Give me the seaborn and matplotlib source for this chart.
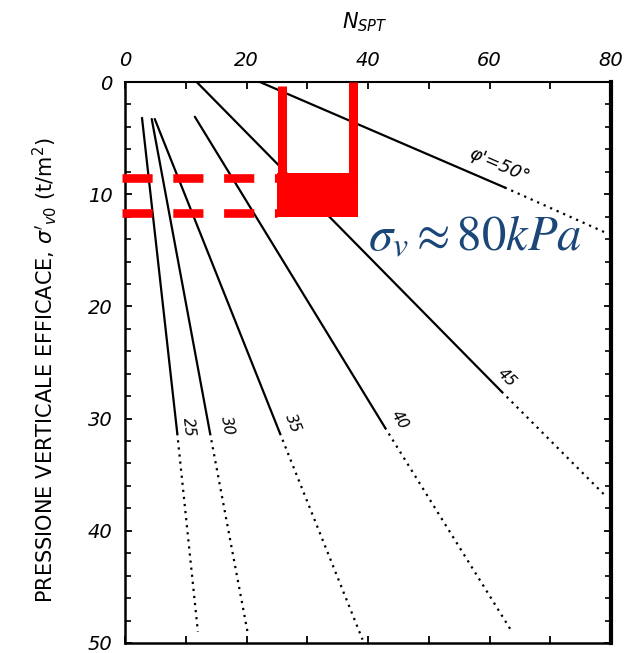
import numpy as np
import pandas as pd
import matplotlib
matplotlib.use('Agg')
import matplotlib.pyplot as plt
from matplotlib.ticker import MultipleLocator
import seaborn as sns

# curve N_SPT - sigma'v0 per angolo di attrito
phi = [25, 30, 35, 40, 45, 50]
n_start = [2.8, 4.4, 4.9, 11.5, 11.8, 22.2]
s_start = [3.2, 3.3, 3.3, 3.1, 0.0, 0.0]
n_solid = [8.6, 14.0, 25.5, 42.8, 62.0, 62.5]
s_solid = [31.3, 31.3, 31.3, 30.8, 27.6, 9.4]
n_end = [12.0, 20.2, 39.1, 63.7, 79.3, 79.0]
s_end = [49.0, 49.1, 49.7, 49.0, 37.0, 13.4]

# etichette delle curve
lab_txt = ['25', '30', '35', '40', '45', "φ'=50°"]
lab_n = [10.4, 16.8, 27.6, 45.2, 62.8, 61.5]
lab_s = [30.8, 30.6, 30.4, 30.1, 26.4, 7.4]
lab_size = [11, 11, 11, 11, 11, 13]

# evidenziazione in rosso
bar_n = [25.8, 37.5]
bar_top = [0.4, 0.0]
box_n = [25.0, 38.3]
box_s = [8.1, 12.0]
dash_s = [8.6, 11.7]
dash_n = [-0.5, 25.0]

x_ticks = list(range(0, 81, 10))
x_labels = ['0', '', '20', '', '40', '', '60', '', '80']
y_ticks = list(range(0, 51, 10))

rows = []
for i, p in enumerate(phi):
    rows.append(dict(curva=p, tratto='solid', N=n_start[i], sigma=s_start[i]))
    rows.append(dict(curva=p, tratto='solid', N=n_solid[i], sigma=s_solid[i]))
    rows.append(dict(curva=p, tratto='dotted', N=n_solid[i], sigma=s_solid[i]))
    rows.append(dict(curva=p, tratto='dotted', N=n_end[i], sigma=s_end[i]))
df = pd.DataFrame(rows)

sns.set_style('ticks')
plt.rcParams['font.family'] = ['DejaVu Sans']
plt.rcParams['mathtext.fontset'] = 'stix'
plt.rcParams['text.color'] = 'black'
plt.rcParams['xtick.color'] = 'black'
plt.rcParams['ytick.color'] = 'black'

fig = plt.figure(figsize=(6.34, 6.53), dpi=100)
ax = fig.add_axes([125 / 634, 10 / 653, 486 / 634, 561 / 653])

sns.lineplot(data=df, x='N', y='sigma', units='curva', estimator=None, sort=False,
             style='tratto', dashes={'solid': '', 'dotted': (1, 2.2)},
             color='black', linewidth=1.6, legend=False, ax=ax)

ax.set_xlim(0, 80)
ax.set_ylim(50, 0)
ax.xaxis.tick_top()
ax.set_xticks(x_ticks)
ax.set_xticklabels(x_labels)
ax.set_yticks(y_ticks)
ax.yaxis.set_minor_locator(MultipleLocator(2))
ax.tick_params(axis='both', which='both', direction='in', top=True, bottom=True,
               left=True, right=True, color='black', labelcolor='black')
ax.tick_params(axis='both', which='major', length=5, width=1.3, pad=9, labelsize=14)
ax.tick_params(axis='y', which='minor', length=4, width=1.2)
for lab in ax.get_xticklabels() + ax.get_yticklabels():
    lab.set_fontstyle('italic')
ax.set_xlabel('')
ax.set_ylabel('')
for side, w in [('top', 1.5), ('left', 1.8), ('bottom', 1.8), ('right', 3.0)]:
    ax.spines[side].set_linewidth(w)
    ax.spines[side].set_color('black')

fig.text(365 / 634, 1 - 22 / 653, r'$N_{SPT}$', ha='center', va='center',
         fontsize=15, math_fontfamily='dejavusans', fontstyle='italic')
ax.text(-0.165, 0.487, r"PRESSIONE VERTICALE EFFICACE, $\sigma'_{v0}$ (t/m$^2$)",
        transform=ax.transAxes, rotation=90, ha='center', va='center',
        fontsize=15, math_fontfamily='dejavusans')

# etichette ruotate lungo le curve
for i, t in enumerate(lab_txt):
    p0 = ax.transData.transform((n_start[i], s_start[i]))
    p1 = ax.transData.transform((n_solid[i], s_solid[i]))
    ang = np.degrees(np.arctan2(p1[1] - p0[1], p1[0] - p0[0]))
    ax.text(lab_n[i], lab_s[i], t, rotation=ang, rotation_mode='anchor',
            ha='center', va='center', fontsize=lab_size[i], fontstyle='italic')

# rettangolo rosso e linee tratteggiate
red = '#ff0000'
for n, top in zip(bar_n, bar_top):
    ax.plot([n, n], [top, box_s[0] + 0.5], color=red, linewidth=6.5,
            solid_capstyle='butt', zorder=5)
ax.fill_between(box_n, box_s[0], box_s[1], color=red, linewidth=0, zorder=5)
for s in dash_s:
    ax.plot(dash_n, [s, s], color=red, linewidth=6.2, dashes=(3.5, 2.4),
            solid_capstyle='butt', dash_capstyle='butt', clip_on=False, zorder=5)

ax.text(40.0, 15.0, r'$\sigma_v \approx 80kPa$', color='#1a4778', fontsize=35,
        ha='left', va='baseline', zorder=6)

fig.savefig('out.png', dpi=100)
